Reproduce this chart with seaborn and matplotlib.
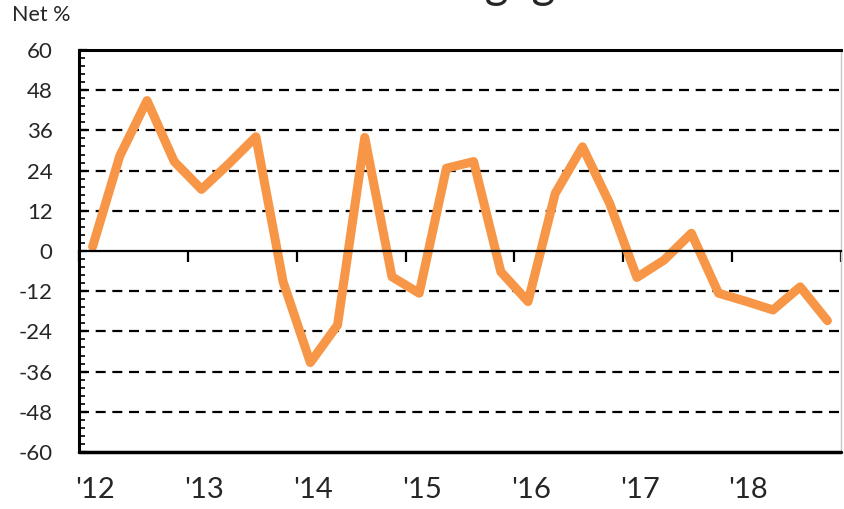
import numpy as np
import pandas as pd
import matplotlib
matplotlib.use("Agg")
import matplotlib.pyplot as plt
import seaborn as sns
from matplotlib.ticker import MultipleLocator, FixedLocator

# ---- data ----
quarters = [f"{y}Q{q}" for y in range(2012, 2019) for q in range(1, 5)]
net_pct = [1.3, 28.4, 44.9, 26.7, 18.4, 26.0, 34.1, -9.2,
           -33.3, -22.1, 33.9, -7.7, -12.6, 24.7, 26.7, -6.2,
           -15.1, 17.2, 31.1, 14.2, -7.9, -2.7, 5.3, -12.6,
           -15.0, -17.6, -10.7, -20.8]
year_labels = ["'12", "'13", "'14", "'15", "'16", "'17", "'18"]
y_ticks = [-60, -48, -36, -24, -12, 0, 12, 24, 36, 48, 60]
title_text = "Secured Mortgage Demand"
ylabel_text = "Net %"

df = pd.DataFrame({"quarter": quarters, "value": net_pct})
df["pos"] = np.arange(len(df)) + 0.5

sns.set_theme(style="white")
plt.rcParams["font.family"] = ["Lato", "DejaVu Sans"]

fig = plt.figure(figsize=(8.44, 5.09), dpi=100)
ax = fig.add_axes([79 / 844, 1 - 452 / 509, (841 - 79) / 844, (452 - 50) / 509])

sns.lineplot(data=df, x="pos", y="value", ax=ax, color="#F79646",
             linewidth=6.5, solid_joinstyle="round", solid_capstyle="round")

ax.set_xlim(0, len(quarters))
ax.set_ylim(-60, 60)
ax.set_xlabel("")
ax.set_ylabel("")

# gridlines
for v in y_ticks:
    if v in (-60, 0, 60):
        continue
    ax.axhline(v, color="black", linewidth=1.6, linestyle=(0, (4.5, 3)), zorder=0.5)
ax.axhline(-60, color="black", linewidth=2.5, zorder=3, clip_on=False)

# spines
ax.spines["left"].set_color("black")
ax.spines["left"].set_linewidth(2.2)
ax.spines["top"].set_color("black")
ax.spines["top"].set_linewidth(2.2)
ax.spines["right"].set_color("#c8c8c8")
ax.spines["right"].set_linewidth(1.0)
ax.spines["bottom"].set_position(("data", 0))
ax.spines["bottom"].set_color("black")
ax.spines["bottom"].set_linewidth(1.6)

# y ticks
ax.yaxis.set_major_locator(FixedLocator(y_ticks))
ax.yaxis.set_minor_locator(MultipleLocator(2.4))
ax.set_yticklabels([str(v) for v in y_ticks])
ax.tick_params(axis="y", which="major", direction="in", length=6, width=1.6,
               color="black", pad=19, labelsize=16, left=True)
ax.tick_params(axis="y", which="minor", direction="in", length=4, width=1.2,
               color="black", left=True)

# x ticks: year boundaries on zero line, labels via minor ticks
ax.xaxis.set_major_locator(FixedLocator(np.arange(0, len(quarters) + 1, 4)))
ax.xaxis.set_minor_locator(FixedLocator(np.arange(len(year_labels)) * 4 + 0.6))
ax.set_xticklabels([""] * len(ax.get_xticks()))
ax.set_xticklabels(year_labels, minor=True)
ax.tick_params(axis="x", which="major", direction="out", length=8, width=1.6,
               color="black", bottom=True)
ax.tick_params(axis="x", which="minor", length=0, pad=163, labelsize=21, bottom=True)

fig.text(12 / 844, 1 - 5 / 509, ylabel_text, fontsize=15.5, va="top", ha="left")
fig.text(485 / 844, 1 + 2 / 509, title_text, fontsize=33, va="baseline", ha="center")

fig.savefig("out.png", dpi=100, facecolor="white")
